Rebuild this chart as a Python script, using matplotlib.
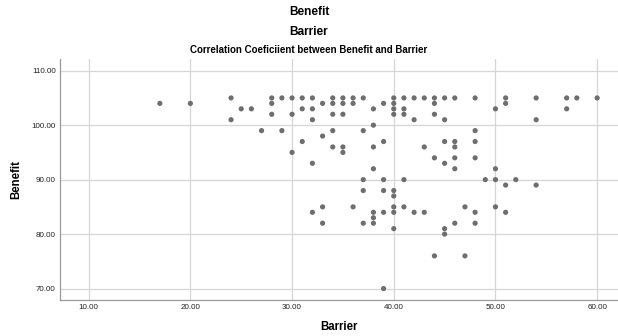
import matplotlib
matplotlib.use("Agg")
import matplotlib.pyplot as plt

plt.rcParams['font.family'] = ['Liberation Sans', 'DejaVu Sans']

barrier = [17, 20,
           24, 24, 25, 26,
           27,
           28, 28, 28,
           29, 29,
           30, 30, 30,
           31, 31, 31,
           32, 32, 32, 32, 32,
           33, 33, 33, 33,
           34, 34, 34, 34, 34,
           35, 35, 35, 35, 35,
           36, 36, 36,
           37, 37, 37, 37, 37,
           38, 38, 38, 38, 38, 38, 38,
           39, 39, 39, 39, 39, 39,
           40, 40, 40, 40, 40, 40, 40, 40, 40,
           41, 41, 41, 41, 41,
           42, 42, 42,
           43, 43, 43,
           44, 44, 44, 44, 44,
           45, 45, 45, 45, 45, 45,
           46, 46, 46, 46, 46, 46,
           47, 47,
           48, 48, 48, 48, 48, 48,
           49,
           50, 50, 50, 50,
           51, 51, 51, 51,
           52,
           54, 54, 54,
           57, 57,
           58,
           60]
benefit = [104, 104,
           105, 101, 103, 103,
           99,
           105, 104, 102,
           105, 99,
           105, 102, 95,
           105, 103, 97,
           105, 103, 101, 93, 84,
           104, 98, 85, 82,
           105, 104, 102, 99, 96,
           105, 104, 102, 96, 95,
           105, 104, 85,
           105, 99, 90, 88, 82,
           103, 100, 96, 92, 84, 83, 82,
           104, 97, 90, 88, 84, 70,
           105, 104, 103, 102, 88, 87, 85, 84, 81,
           105, 103, 102, 90, 85,
           105, 101, 84,
           105, 96, 84,
           105, 104, 102, 94, 76,
           105, 101, 97, 93, 81, 80,
           105, 97, 96, 94, 92, 82,
           85, 76,
           105, 99, 97, 94, 84, 82,
           90,
           103, 92, 90, 85,
           105, 104, 89, 84,
           90,
           105, 101, 89,
           105, 103,
           105,
           105]

x_ticks = [10, 20, 30, 40, 50, 60]
y_ticks = [70, 80, 90, 100, 110]

W, H = 618, 336
fig = plt.figure(figsize=(W / 100, H / 100), dpi=100)
left, right, top, bottom = 60, 618, 59, 300
ax = fig.add_axes([left / W, 1 - bottom / H, (right - left) / W, (bottom - top) / H])

ax.scatter(barrier, benefit, s=14, color='#6e6e6e', edgecolors='none', zorder=3)

ax.set_xlim(7.18, 62.05)
ax.set_ylim(67.9, 112.15)
ax.set_xticks(x_ticks)
ax.set_yticks(y_ticks)
ax.set_xticklabels([f"{v:.2f}" for v in x_ticks])
ax.set_yticklabels([f"{v:.2f}" for v in y_ticks])
ax.tick_params(axis='both', length=0, labelsize=5.8, colors='#222222')
ax.tick_params(axis='x', pad=3)
ax.tick_params(axis='y', pad=3)
ax.grid(True, color='#d6d6d6', linewidth=0.9, zorder=0)
ax.set_axisbelow(True)
for s in ['top', 'right']:
    ax.spines[s].set_visible(False)
for s in ['left', 'bottom']:
    ax.spines[s].set_color('#9a9a9a')
    ax.spines[s].set_linewidth(0.9)

ax.set_xlabel('Barrier', fontsize=8.3, fontweight='bold', labelpad=7)
ax.set_ylabel('Benefit', fontsize=8.3, fontweight='bold', labelpad=7)

fig.text(0.5, 1 - 12 / H, 'Benefit', ha='center', va='center', fontsize=8.6, fontweight='bold')
fig.text(0.5, 1 - 32 / H, 'Barrier', ha='center', va='center', fontsize=8.6, fontweight='bold')
fig.text(0.5, 1 - 50 / H, 'Correlation Coeficiient between Benefit and Barrier',
         ha='center', va='center', fontsize=7.0, fontweight='bold')

fig.savefig('out.png', dpi=100)
